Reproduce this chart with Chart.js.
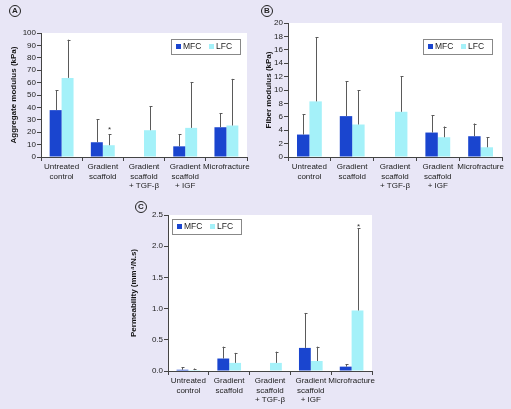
<!DOCTYPE html>
<html>
<head>
<meta charset="utf-8">
<script src="https://cdn.jsdelivr.net/npm/chart.js@4/dist/chart.umd.min.js"></script>
<style>
  body { margin: 0; background: #e8e6f6; }
  #wrap { position: relative; width: 511px; height: 409px; background: #e8e6f6; overflow: hidden; font-family: "Liberation Sans", Arial, sans-serif; }
  .panel { position: absolute; }
  .tag { position: absolute; width: 10px; height: 10px; border: 1px solid #222; border-radius: 50%;
         font-size: 8px; font-weight: bold; line-height: 10px; text-align: center; color: #222; }
</style>
</head>
<body>
<div id="wrap">
  <div class="panel" style="left:0;top:0;width:255px;height:200px"><canvas id="c1"></canvas></div>
  <div class="panel" style="left:255px;top:0;width:256px;height:200px"><canvas id="c2"></canvas></div>
  <div class="panel" style="left:120px;top:200px;width:280px;height:209px"><canvas id="c3"></canvas></div>
  <span class="tag" style="left:9px;top:5px">A</span>
  <span class="tag" style="left:261px;top:5px">B</span>
  <span class="tag" style="left:135px;top:201px">C</span>
</div>
<script>
var categories = [
    ['Untreated', 'control'],
    ['Gradient', 'scaffold'],
    ['Gradient', 'scaffold', '+ TGF-\u03b2'],
    ['Gradient', 'scaffold', '+ IGF'],
    'Microfracture'
];

// A: aggregate modulus (kPa)
var aggMFC = [37.8, 11.9, null, 8.6, 24];
var aggMFCErr = [54, 30.5, null, 18.4, 35.1];
var aggLFC = [63.8, 9.5, 21.6, 23.5, 25.4];
var aggLFCErr = [94.6, 18.4, 40.8, 60.5, 63];
var aggStar = [null, 23.5, null, null, null];

// B: fiber modulus (kPa)
var fibMFC = [3.35, 6.1, null, 3.65, 3.1];
var fibMFCErr = [6.35, 11.3, null, 6.2, 5.0];
var fibLFC = [8.3, 4.85, 6.75, 2.95, 1.45];
var fibLFCErr = [17.85, 9.95, 12.05, 4.55, 2.95];

// C: permeability
var perMFC = [0.02, 0.2, null, 0.37, 0.07];
var perMFCErr = [0.06, 0.39, null, 0.93, 0.11];
var perLFC = [0.015, 0.13, 0.13, 0.16, 0.97];
var perLFCErr = [0.04, 0.29, 0.31, 0.39, 2.29];
var perStar = [null, null, null, null, 2.34];

var MFC_COLOR = '#1a45cf';
var LFC_COLOR = '#a4f1f9';
var FONT = '"Liberation Sans", Arial, sans-serif';

var whiteArea = {
    id: 'whiteArea',
    beforeDraw: function(chart) {
        var a = chart.chartArea, ctx = chart.ctx;
        ctx.save();
        ctx.fillStyle = '#ffffff';
        ctx.fillRect(a.left, a.top, a.right - a.left, a.bottom - a.top);
        ctx.restore();
    }
};

var errBars = {
    id: 'errBars',
    afterDatasetsDraw: function(chart, args, opts) {
        var ctx = chart.ctx, y = chart.scales.y;
        ctx.save();
        chart.data.datasets.forEach(function(ds, di) {
            var meta = chart.getDatasetMeta(di);
            meta.data.forEach(function(bar, i) {
                var v = ds.data[i], e = ds.err[i];
                if (v == null || e == null) return;
                var x = Math.round(bar.x) + 0.5;
                var y0 = y.getPixelForValue(v), y1 = y.getPixelForValue(e);
                ctx.strokeStyle = '#5a5a5a';
                ctx.lineWidth = 1;
                ctx.beginPath();
                ctx.moveTo(x, y0);
                ctx.lineTo(x, y1);
                ctx.moveTo(x - 1, Math.round(y1) + 0.5);
                ctx.lineTo(x + 2, Math.round(y1) + 0.5);
                ctx.stroke();
                if (ds.star && ds.star[i] != null) {
                    ctx.fillStyle = '#333';
                    ctx.font = '8px ' + FONT;
                    ctx.textAlign = 'center';
                    ctx.textBaseline = 'middle';
                    ctx.fillText('*', x, y.getPixelForValue(ds.star[i]) + 2);
                }
            });
        });
        ctx.restore();
    }
};

var boxLegend = {
    id: 'boxLegend',
    afterDraw: function(chart, args, opts) {
        var ctx = chart.ctx, a = chart.chartArea;
        var w = 69, h = 15;
        var x0 = opts.side === 'left' ? a.left + 4 : a.right - opts.right - w;
        var y0 = a.top + opts.top;
        ctx.save();
        ctx.fillStyle = '#fff';
        ctx.fillRect(x0, y0, w, h);
        ctx.strokeStyle = '#888';
        ctx.lineWidth = 1;
        ctx.strokeRect(Math.round(x0) + 0.5, Math.round(y0) + 0.5, w, h);
        ctx.font = '8.5px ' + FONT;
        ctx.textBaseline = 'middle';
        var cx = x0 + 5;
        chart.data.datasets.forEach(function(ds) {
            ctx.fillStyle = ds.backgroundColor;
            ctx.fillRect(cx, y0 + h / 2 - 2.5, 5, 5);
            ctx.fillStyle = '#222';
            ctx.fillText(ds.label, cx + 7, y0 + h / 2 + 0.5);
            cx += 33;
        });
        ctx.restore();
    }
};

function makeChart(id, mfc, mfcErr, lfc, lfcErr, star, yMax, step, title, pad, yWidth, xHeight, legend, decimals) {
    var div = document.getElementById(id);
    if (!div) return;
    return new Chart(div.getContext('2d'), {
        type: 'bar',
        data: {
            labels: categories,
            datasets: [
                { label: 'MFC', data: mfc, err: mfcErr, star: null, backgroundColor: MFC_COLOR, barPercentage: 1, categoryPercentage: 0.58 },
                { label: 'LFC', data: lfc, err: lfcErr, star: star, backgroundColor: LFC_COLOR, barPercentage: 1, categoryPercentage: 0.58 }
            ]
        },
        options: {
            responsive: true,
            maintainAspectRatio: false,
            animation: false,
            layout: { padding: pad },
            plugins: { legend: { display: false }, tooltip: { enabled: false }, boxLegend: legend },
            scales: {
                x: {
                    grid: { offset: true, drawOnChartArea: false, drawTicks: true, tickLength: 4, color: '#444' },
                    border: { color: '#444' },
                    ticks: { color: '#222', font: { family: FONT, size: 8 }, padding: 1, maxRotation: 0, autoSkip: false },
                    afterFit: function(s) { s.height = xHeight; s.paddingLeft = 0; s.paddingRight = 0; }
                },
                y: {
                    min: 0, max: yMax,
                    grid: { drawOnChartArea: false, drawTicks: true, tickLength: 4, color: '#444' },
                    border: { color: '#444' },
                    ticks: { stepSize: step, autoSkip: false, color: '#222', font: { family: FONT, size: 8 }, padding: 1,
                             callback: function(v) { return decimals ? v.toFixed(decimals) : v; } },
                    title: { display: true, text: title, color: '#111', font: { family: FONT, size: 8, weight: 'bold' }, padding: { top: 9, bottom: 0 } },
                    afterFit: function(s) { s.width = yWidth; s.paddingTop = 0; s.paddingBottom = 0; }
                }
            }
        },
        plugins: [whiteArea, errBars, boxLegend]
    });
}

makeChart('c1', aggMFC, aggMFCErr, aggLFC, aggLFCErr, aggStar, 100, 10, 'Aggregate modulus (kPa)',
    { left: 0, top: 33, right: 8, bottom: 0 }, 41, 43, { side: 'right', right: 7, top: 6 }, 0);
makeChart('c2', fibMFC, fibMFCErr, fibLFC, fibLFCErr, null, 20, 2, 'Fiber modulus (kPa)',
    { left: 0, top: 23, right: 9, bottom: 0 }, 33, 43, { side: 'right', right: 10, top: 16 }, 0);
makeChart('c3', perMFC, perMFCErr, perLFC, perLFCErr, perStar, 2.5, 0.5, 'Permeability (mm\u2074/N.s)',
    { left: 0, top: 15, right: 28, bottom: 0 }, 48, 38, { side: 'left', right: 0, top: 4 }, 1);
</script>
</body>
</html>
